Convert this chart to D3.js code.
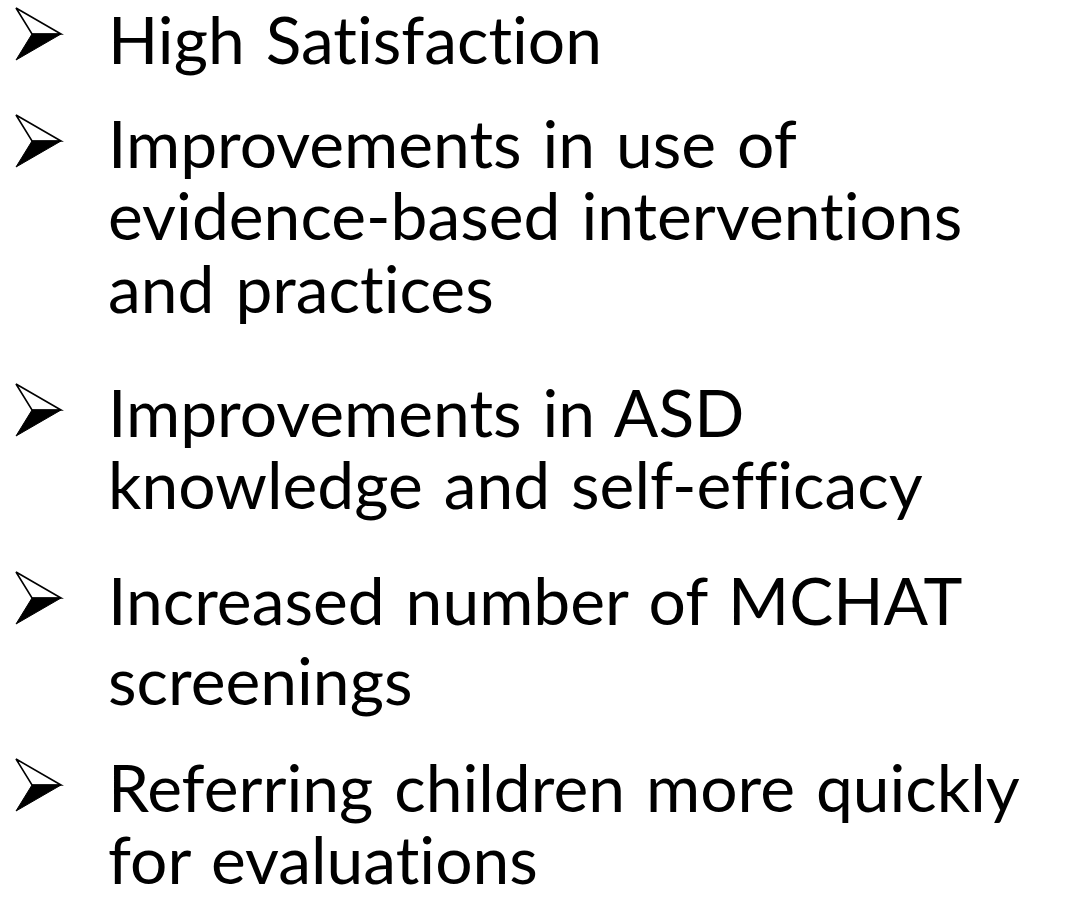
<!DOCTYPE html>
<html>
<head>
<meta charset="utf-8">
<script src="https://cdn.jsdelivr.net/npm/d3@7"></script>
<style>
  html, body { margin: 0; padding: 0; background: #ffffff; }
  svg { display: block; }
  text { font-variant-ligatures: none; font-feature-settings: "liga" 0, "clig" 0; }
</style>
</head>
<body>
<script>
// ---- Content (slide bullets; each inner list = wrapped lines of one bullet) ----
const bullet1 = ["High Satisfaction"];
const bullet2 = ["Improvements in use of", "evidence-based interventions", "and practices"];
const bullet3 = ["Improvements in ASD", "knowledge and self-efficacy"];
const bullet4 = ["Increased number of MCHAT", "screenings"];
const bullet5 = ["Referring children more quickly", "for evaluations"];
const bullets = [bullet1, bullet2, bullet3, bullet4, bullet5];

// ---- Layout ----
const W = 1065, H = 898;
const textX = 108;
const firstBaselines = [64, 168, 437, 625, 812];   // baseline of first line of each bullet
const lineGaps = [72.5, 72.5, 72.5, 80, 72];        // line spacing inside each bullet
const fontSize = 65;
const wordSpacing = 4;
const targetWidestLine = 912;   // width of "Referring children more quickly"

const svg = d3.select("body").append("svg")
  .attr("width", W).attr("height", H);
svg.append("rect").attr("width", W).attr("height", H).attr("fill", "#ffffff");

// bullet arrow (Wingdings-style arrowhead)
function drawArrow(g, b) {
  const left = 16, tip = 61, notch = 32;
  const top = b - 53, bottom = b - 1, mid = b - 27;
  const upper = d3.path();
  upper.moveTo(left, top); upper.lineTo(tip, mid); upper.lineTo(notch, mid); upper.closePath();
  g.append("path").attr("d", upper.toString())
    .attr("fill", "#ffffff").attr("stroke", "#000").attr("stroke-width", 1.6)
    .attr("stroke-linejoin", "miter");
  const lower = d3.path();
  lower.moveTo(notch, mid); lower.lineTo(tip, mid); lower.lineTo(left, bottom); lower.closePath();
  g.append("path").attr("d", lower.toString())
    .attr("fill", "#000").attr("stroke", "#000").attr("stroke-width", 1);
}

const items = svg.append("g").selectAll("g.item").data(bullets).join("g").attr("class", "item");

items.each(function(lines, i) {
  const g = d3.select(this);
  drawArrow(g, i === 0 ? 61 : firstBaselines[i]);
  const tg = g.append("g").attr("class", "lines")
    .attr("transform", `translate(${textX},0)`);
  tg.selectAll("text").data(lines).join("text")
    .attr("x", 0)
    .attr("y", (d, j) => firstBaselines[i] + j * lineGaps[i])
    .attr("font-family", "Lato, 'Open Sans', sans-serif")
    .attr("font-size", fontSize)
    .attr("word-spacing", wordSpacing)
    .attr("fill", "#000")
    .text(d => d);
});

// horizontal condensing so Lato approximates Calibri widths
let widest = 0;
svg.selectAll("g.lines text").each(function() {
  widest = Math.max(widest, this.getBoundingClientRect().width);
});
const sx = widest > 0 ? targetWidestLine / widest : 1;
svg.selectAll("g.lines").attr("transform", `translate(${textX},0) scale(${sx},1)`);
</script>
</body>
</html>
